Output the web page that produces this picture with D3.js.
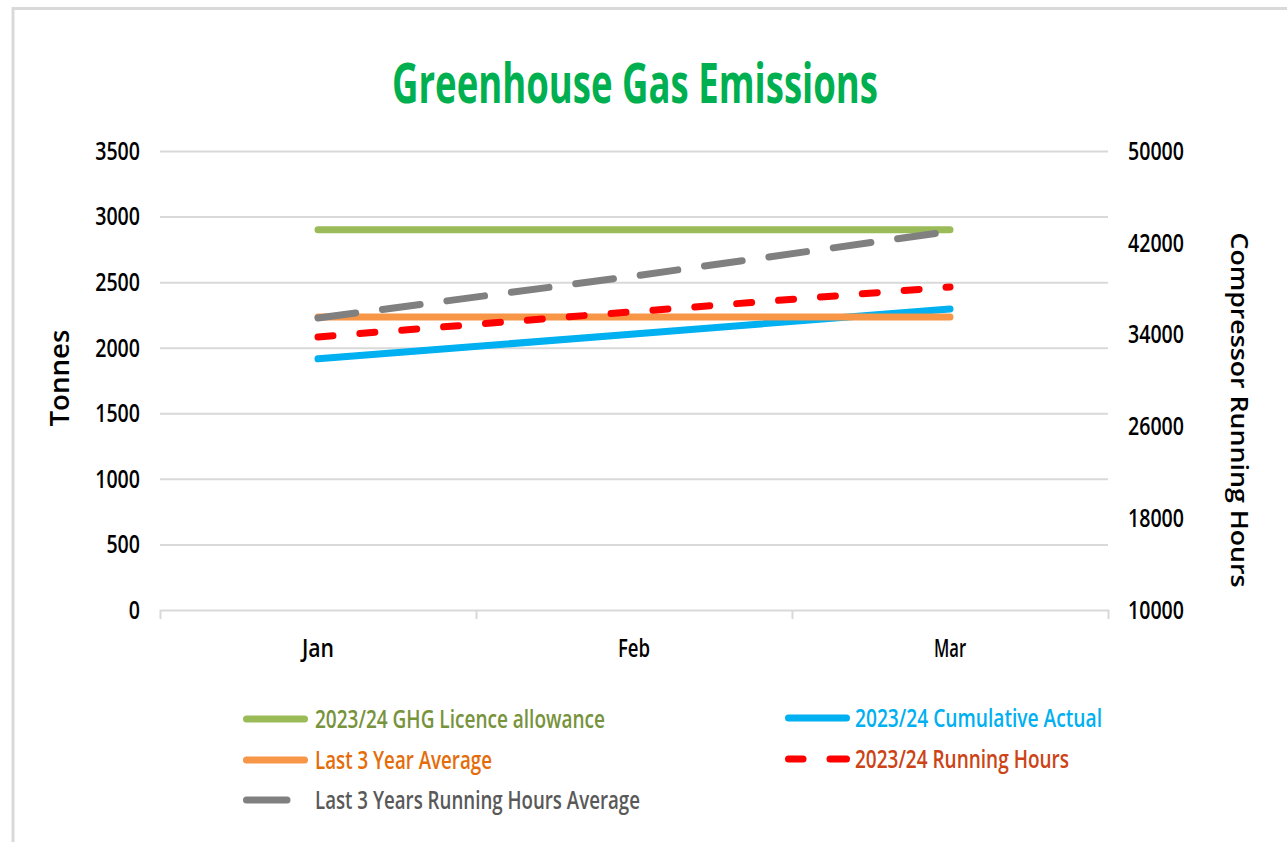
<!DOCTYPE html>
<html>
  <head>
    <meta charset="utf-8">
    <script src="https://d3js.org/d3.v7.min.js"></script>
    <title>Greenhouse Gas Emissions</title>
    <style>
      body { margin: 0; background: #fff; }
      text { font-family: "Open Sans", "Noto Sans", sans-serif; }
      .tick text { font-size: 26px; font-weight: 600; fill: #000; }
      .grid line { stroke: #d9d9d9; stroke-width: 2; }
      .axis-label { font-weight: 600; fill: #000; }
      .legend text { font-size: 26px; font-weight: 600; }
    </style>
  </head>
  <body>
    <svg width="1287" height="842"></svg>
    <script>
      // data
      const months = ['Jan', 'Feb', 'Mar'];
      const licenceAllowance = [2900, 2900, 2900];
      const cumulativeActual = [1915, 2105, 2295];
      const lastThreeYearAvg = [2235, 2235, 2235];
      const runningHours = [33800, 36000, 38150];
      const avgRunningHours = [35450, 39100, 43000];

      const leftTicks = [0, 500, 1000, 1500, 2000, 2500, 3000, 3500];
      const rightTicks = [10000, 18000, 26000, 34000, 42000, 50000];

      const series = [
        {name: '2023/24 GHG Licence allowance', values: licenceAllowance, axis: 'left',
         color: '#9bbb59', text: '#77933c', dash: null, lw: 290},
        {name: '2023/24 Cumulative Actual', values: cumulativeActual, axis: 'left',
         color: '#00b0f0', text: '#00b0f0', dash: null, lw: 247},
        {name: 'Last 3 Year Average', values: lastThreeYearAvg, axis: 'left',
         color: '#f79646', text: '#e46c0a', dash: null, lw: 177},
        {name: '2023/24 Running Hours', values: runningHours, axis: 'right',
         color: '#ff0000', text: '#cc4316', dash: '15,27', lw: 214},
        {name: 'Last 3 Years Running Hours Average', values: avgRunningHours, axis: 'right',
         color: '#808080', text: '#595959', dash: '38,27', lw: 325}
      ];

      const svg = d3.select('svg');
      const plot = {left: 160, right: 1108, top: 151, bottom: 610};
      const charW = 11.2;
      const fmt = d3.format('d');

      // frame
      svg.append('rect')
        .attr('x', 13).attr('y', 8.5)
        .attr('width', 1400).attr('height', 1000)
        .attr('fill', 'none')
        .attr('stroke', '#d9d9d9')
        .attr('stroke-width', 3);

      svg.append('text')
        .attr('x', 635).attr('y', 103)
        .attr('text-anchor', 'middle')
        .attr('font-size', 56)
        .attr('font-weight', 700)
        .attr('fill', '#00b050')
        .attr('textLength', 486)
        .attr('lengthAdjust', 'spacingAndGlyphs')
        .text('Greenhouse Gas Emissions');

      const x = d3.scaleBand().domain(months).range([plot.left, plot.right]);
      const yLeft = d3.scaleLinear().domain([0, 3500]).range([plot.bottom, plot.top]);
      const yRight = d3.scaleLinear().domain([10000, 50000]).range([plot.bottom, plot.top]);

      // left axis + gridlines
      const leftG = svg.append('g')
        .attr('class', 'grid')
        .attr('transform', `translate(${plot.left},0)`)
        .call(d3.axisLeft(yLeft)
          .tickValues(leftTicks.slice(1))
          .tickFormat(fmt)
          .tickSize(-(plot.right - plot.left))
          .tickPadding(20));
      leftG.select('.domain').remove();

      // zero label sits on the category axis
      svg.append('g')
        .attr('transform', `translate(${plot.left},0)`)
        .call(d3.axisLeft(yLeft).tickValues([leftTicks[0]]).tickFormat(fmt).tickSize(0).tickPadding(20))
        .select('.domain').remove();

      const rightG = svg.append('g')
        .attr('transform', `translate(${plot.right},0)`)
        .call(d3.axisRight(yRight).tickValues(rightTicks).tickFormat(fmt).tickSize(0).tickPadding(20));
      rightG.select('.domain').remove();

      // category axis: boundary ticks, labels at centres
      const bounds = d3.scaleLinear().domain([0, months.length]).range([plot.left, plot.right]);
      const baseG = svg.append('g')
        .attr('transform', `translate(0,${plot.bottom})`)
        .call(d3.axisBottom(bounds).tickValues([1, 2]).tickSize(9).tickSizeOuter(9).tickFormat(''));
      baseG.selectAll('path, line').attr('stroke', '#d9d9d9').attr('stroke-width', 2);

      const xG = svg.append('g')
        .attr('transform', `translate(0,${plot.bottom})`)
        .call(d3.axisBottom(x).tickSize(0).tickPadding(29));
      xG.select('.domain').remove();

      svg.selectAll('.tick text')
        .attr('textLength', function() { return this.textContent.length * charW; })
        .attr('lengthAdjust', 'spacingAndGlyphs');
      xG.selectAll('.tick text')
        .attr('textLength', function() { return this.textContent.length * 10.7; });

      // axis titles
      svg.append('text')
        .attr('class', 'axis-label')
        .attr('transform', 'translate(69,378) rotate(-90)')
        .attr('text-anchor', 'middle')
        .attr('font-size', 27)
        .attr('textLength', 97)
        .attr('lengthAdjust', 'spacingAndGlyphs')
        .text('Tonnes');
      svg.append('text')
        .attr('class', 'axis-label')
        .attr('transform', 'translate(1231,410) rotate(90)')
        .attr('text-anchor', 'middle')
        .attr('font-size', 24)
        .attr('textLength', 355)
        .attr('lengthAdjust', 'spacingAndGlyphs')
        .text('Compressor Running Hours');

      // lines
      series.forEach(s => {
        const yScale = s.axis === 'left' ? yLeft : yRight;
        const line = d3.line()
          .x((d, i) => x(months[i]) + x.bandwidth() / 2)
          .y(d => yScale(d));
        svg.append('path')
          .datum(s.values)
          .attr('d', line)
          .attr('fill', 'none')
          .attr('stroke', s.color)
          .attr('stroke-width', 7)
          .attr('stroke-linecap', 'round')
          .attr('stroke-dasharray', s.dash);
      });

      // legend
      const legendPos = [
        {x: 243, y: 719}, {x: 785, y: 718},
        {x: 243, y: 760}, {x: 785, y: 759},
        {x: 243, y: 800}
      ];
      const legend = svg.append('g').attr('class', 'legend');
      series.forEach((s, i) => {
        const p = legendPos[i];
        const item = legend.append('g').attr('transform', `translate(${p.x},${p.y})`);
        if (s.dash === '38,27') {
          item.append('line').attr('x1', 3.5).attr('x2', 44);
        } else if (s.dash) {
          item.append('line').attr('x1', 3.5).attr('x2', 18);
          item.append('line').attr('x1', 45).attr('x2', 61.5);
        } else {
          item.append('line').attr('x1', 3.5).attr('x2', 61.5);
        }
        item.selectAll('line')
          .attr('stroke', s.color)
          .attr('stroke-width', 7)
          .attr('stroke-linecap', 'round');
        item.append('text')
          .attr('x', i % 2 === 0 ? 72 : 70)
          .attr('y', 9)
          .attr('fill', s.text)
          .attr('textLength', s.lw)
          .attr('lengthAdjust', 'spacingAndGlyphs')
          .text(s.name);
      });
    </script>
  </body>
</html>
